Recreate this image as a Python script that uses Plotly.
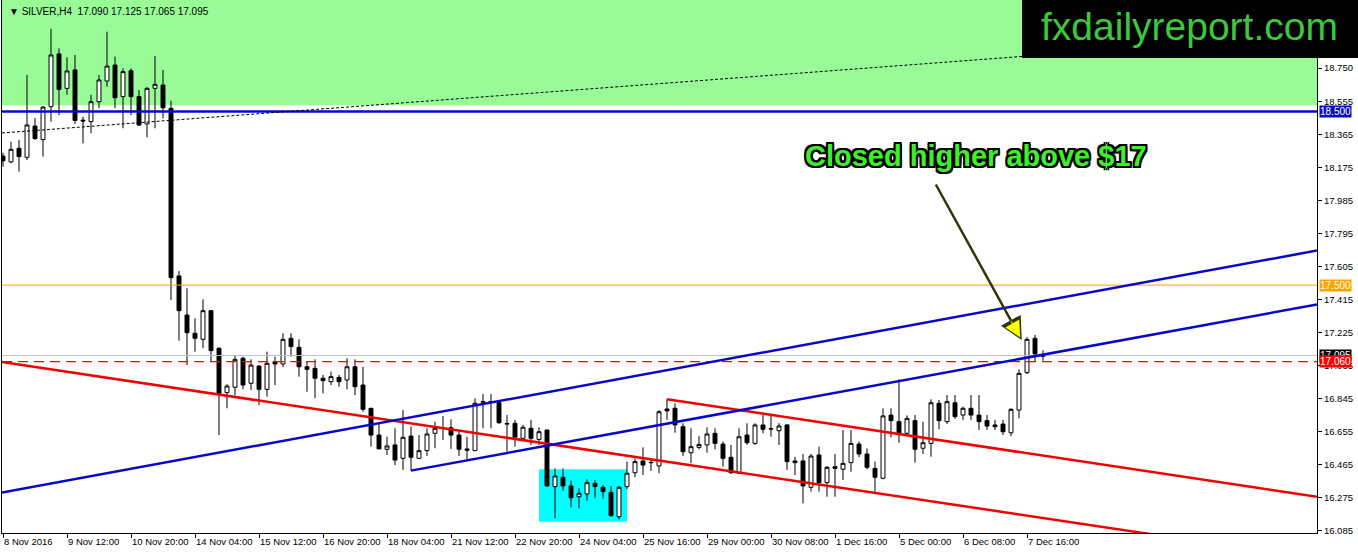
import plotly.graph_objects as go

# ---------------- data ----------------
open_ = [18.243, 18.210, 18.288, 18.236, 18.416, 18.338, 18.527, 18.831, 18.633, 18.739,
         18.450, 18.441, 18.556, 18.675, 18.767, 18.585, 18.734, 18.585, 18.428, 18.633,
         18.652, 18.518, 17.553, 17.328, 17.223, 17.188, 17.353, 17.137, 16.881, 16.912,
         17.079, 16.935, 17.034, 16.900, 17.059, 17.046, 17.194, 17.142, 17.030, 17.021,
         16.964, 16.944, 16.969, 16.954, 17.030, 16.925, 16.791, 16.637, 16.555, 16.580,
         16.503, 16.631, 16.503, 16.547, 16.647, 16.680, 16.679, 16.637, 16.557, 16.547,
         16.826, 16.830, 16.823, 16.700, 16.705, 16.618, 16.676, 16.612, 16.666, 16.340,
         16.394, 16.344, 16.282, 16.298, 16.359, 16.336, 16.307, 16.167, 16.340, 16.420,
         16.488, 16.480, 16.459, 16.787, 16.791, 16.685, 16.535, 16.566, 16.580, 16.647,
         16.585, 16.509, 16.417, 16.637, 16.589, 16.695, 16.674, 16.662, 16.695, 16.488,
         16.488, 16.336, 16.522, 16.363, 16.455, 16.440, 16.478, 16.585, 16.528, 16.445,
         16.388, 16.752, 16.714, 16.647, 16.720, 16.561, 16.589, 16.820, 16.714, 16.823,
         16.752, 16.791, 16.752, 16.720, 16.695, 16.700, 16.650, 16.781, 16.996, 17.194,
         17.090]
high = [18.262, 18.326, 18.336, 18.710, 18.462, 18.531, 18.975, 18.863, 18.812, 18.825,
        18.470, 18.595, 18.710, 18.959, 18.815, 18.748, 18.748, 18.623, 18.640, 18.819,
        18.739, 18.562, 17.581, 17.482, 17.309, 17.418, 17.357, 17.140, 16.930, 17.092,
        17.088, 17.073, 17.040, 17.117, 17.088, 17.223, 17.223, 17.188, 17.059, 17.073,
        16.983, 17.002, 16.983, 17.079, 17.073, 17.030, 16.791, 16.705, 16.627, 16.676,
        16.781, 16.685, 16.637, 16.676, 16.714, 16.747, 16.728, 16.666, 16.627, 16.848,
        16.873, 16.873, 16.839, 16.752, 16.724, 16.695, 16.724, 16.682, 16.670, 16.445,
        16.445, 16.374, 16.330, 16.382, 16.378, 16.349, 16.344, 16.344, 16.484, 16.503,
        16.566, 16.503, 16.781, 16.843, 16.820, 16.705, 16.676, 16.631, 16.682, 16.676,
        16.600, 16.580, 16.676, 16.705, 16.705, 16.752, 16.747, 16.705, 16.700, 16.512,
        16.528, 16.528, 16.570, 16.459, 16.528, 16.666, 16.666, 16.600, 16.560, 16.484,
        16.791, 16.791, 16.958, 16.750, 16.752, 16.714, 16.843, 16.839, 16.867, 16.867,
        16.800, 16.867, 16.867, 16.752, 16.724, 16.724, 16.791, 17.015, 17.200, 17.213,
        17.125]
low = [18.182, 18.201, 18.153, 18.220, 18.336, 18.240, 18.441, 18.479, 18.595, 18.428,
       18.316, 18.374, 18.518, 18.642, 18.518, 18.403, 18.479, 18.416, 18.351, 18.403,
       18.460, 17.414, 17.180, 17.040, 17.117, 17.137, 17.059, 16.637, 16.791, 16.867,
       16.900, 16.896, 16.810, 16.858, 16.925, 17.027, 17.088, 16.973, 16.886, 16.849,
       16.877, 16.925, 16.915, 16.900, 16.867, 16.771, 16.570, 16.557, 16.522, 16.464,
       16.436, 16.432, 16.500, 16.516, 16.561, 16.609, 16.557, 16.516, 16.489, 16.545,
       16.676, 16.676, 16.701, 16.541, 16.570, 16.604, 16.580, 16.580, 16.340, 16.158,
       16.317, 16.221, 16.215, 16.259, 16.273, 16.270, 16.167, 16.152, 16.325, 16.394,
       16.407, 16.430, 16.417, 16.724, 16.650, 16.516, 16.474, 16.555, 16.535, 16.555,
       16.455, 16.413, 16.413, 16.580, 16.580, 16.647, 16.627, 16.580, 16.436, 16.407,
       16.244, 16.311, 16.311, 16.282, 16.282, 16.378, 16.426, 16.510, 16.440, 16.311,
       16.382, 16.624, 16.593, 16.640, 16.478, 16.528, 16.512, 16.670, 16.700, 16.730,
       16.724, 16.724, 16.666, 16.666, 16.666, 16.637, 16.631, 16.733, 16.988, 17.059,
       17.065]
close = [18.216, 18.282, 18.240, 18.422, 18.344, 18.525, 18.825, 18.627, 18.733, 18.448,
         18.445, 18.556, 18.681, 18.761, 18.579, 18.729, 18.585, 18.422, 18.633, 18.656,
         18.521, 17.543, 17.353, 17.226, 17.194, 17.353, 17.123, 16.877, 16.919, 17.073,
         16.925, 17.040, 16.900, 17.050, 17.046, 17.188, 17.146, 17.030, 17.015, 16.964,
         16.950, 16.973, 16.944, 17.030, 16.915, 16.785, 16.637, 16.557, 16.574, 16.493,
         16.624, 16.509, 16.547, 16.643, 16.676, 16.675, 16.637, 16.555, 16.550, 16.820,
         16.829, 16.826, 16.708, 16.703, 16.624, 16.682, 16.618, 16.656, 16.344, 16.401,
         16.344, 16.276, 16.302, 16.363, 16.340, 16.311, 16.173, 16.336, 16.417, 16.484,
         16.464, 16.478, 16.771, 16.776, 16.695, 16.541, 16.570, 16.583, 16.643, 16.589,
         16.503, 16.420, 16.627, 16.593, 16.695, 16.670, 16.672, 16.689, 16.484, 16.478,
         16.344, 16.516, 16.363, 16.451, 16.445, 16.474, 16.589, 16.528, 16.451, 16.394,
         16.747, 16.720, 16.647, 16.733, 16.555, 16.593, 16.823, 16.720, 16.829, 16.743,
         16.791, 16.752, 16.714, 16.689, 16.685, 16.656, 16.785, 16.992, 17.188, 17.104,
         17.095]
bars = list(range(len(open_)))

tick_bars = list(range(0, 129, 8))
tick_labels = ["8 Nov 2016", "9 Nov 12:00", "10 Nov 20:00", "14 Nov 04:00", "15 Nov 12:00",
               "16 Nov 20:00", "18 Nov 04:00", "21 Nov 12:00", "22 Nov 20:00", "24 Nov 04:00",
               "25 Nov 16:00", "29 Nov 00:00", "30 Nov 08:00", "1 Dec 16:00", "5 Dec 00:00",
               "6 Dec 08:00", "7 Dec 16:00"]
price_ticks = [18.750, 18.555, 18.365, 18.175, 17.985, 17.795, 17.605, 17.415, 17.225,
               17.035, 16.845, 16.655, 16.465, 16.275, 16.085]

# horizontal levels
level_resistance = 18.500
level_orange = 17.500
level_bid = 17.095
level_red = 17.060
green_zone_bottom = 18.535

# trend lines: (x0, y0, x1, y1) in bar index / price
trend_dotted = [-0.125, 18.376, 164.25, 18.944]
trend_red_long = [-0.125, 17.057, 164.25, 15.923]
trend_red_channel = [83, 16.843, 164.25, 16.282]
trend_blue_upper = [-0.125, 16.306, 164.25, 17.699]
trend_blue_lower = [51, 16.432, 164.25, 17.389]

# cyan consolidation box
box_cyan = [67, 16.138, 78, 16.440]

# annotation anchor points
text_pos = [121.6, 18.243]
arrow_tail = [116.5, 18.088]
arrow_tip = [127.34, 17.184]
arrow_head_tail = [125.9, 17.300]

X_RANGE = [-0.125, 164.25]
Y_RANGE = [16.073, 19.1415]

FONT = "Liberation Sans, Arial, sans-serif"
BLUE = "#0808CC"
RED = "#F00000"
ORANGE = "#FFA500"

fig = go.Figure()
fig.add_trace(go.Candlestick(
    x=bars, open=open_, high=high, low=low, close=close,
    increasing=dict(fillcolor="white", line=dict(color="black", width=1)),
    decreasing=dict(fillcolor="black", line=dict(color="black", width=1)),
    whiskerwidth=0, hoverinfo="skip", showlegend=False,
))

shapes = []
# green zone
shapes.append(dict(type="rect", xref="x", yref="y", x0=X_RANGE[0], x1=X_RANGE[1],
                   y0=green_zone_bottom, y1=Y_RANGE[1], fillcolor="#98FB98",
                   line=dict(width=0), layer="below"))
# cyan box
shapes.append(dict(type="rect", xref="x", yref="y", x0=box_cyan[0], x1=box_cyan[2],
                   y0=box_cyan[1], y1=box_cyan[3], fillcolor="#00FFFF",
                   line=dict(width=0), layer="below"))
# horizontal lines
shapes.append(dict(type="line", xref="x", yref="y", x0=X_RANGE[0], x1=X_RANGE[1],
                   y0=level_orange, y1=level_orange, line=dict(color=ORANGE, width=1), layer="above"))
shapes.append(dict(type="line", xref="x", yref="y", x0=X_RANGE[0], x1=X_RANGE[1],
                   y0=level_bid, y1=level_bid, line=dict(color="#C0C0C0", width=1), layer="above"))
shapes.append(dict(type="line", xref="x", yref="y", x0=X_RANGE[0], x1=X_RANGE[1],
                   y0=level_red, y1=level_red, line=dict(color="#FF0000", width=1.3, dash="10px,6px"),
                   layer="above"))
shapes.append(dict(type="line", xref="x", yref="y", x0=X_RANGE[0], x1=X_RANGE[1],
                   y0=level_resistance, y1=level_resistance, line=dict(color=BLUE, width=2.5), layer="above"))
# trend lines
def tl(p, color, width, dash="solid"):
    return dict(type="line", xref="x", yref="y", x0=p[0], y0=p[1], x1=p[2], y1=p[3],
                line=dict(color=color, width=width, dash=dash), layer="above")
shapes.append(tl(trend_dotted, "black", 1, "3px,2px"))
shapes.append(tl(trend_red_long, RED, 2.5))
shapes.append(tl(trend_red_channel, RED, 2.5))
shapes.append(tl(trend_blue_upper, BLUE, 2.5))
shapes.append(tl(trend_blue_lower, BLUE, 2.5))
# logo box (top right)
shapes.append(dict(type="rect", xref="paper", yref="paper", x0=0.7757, x1=1.04,
                   y0=0.8912, y1=1.0, fillcolor="black", line=dict(width=0), layer="above"))

annotations = []
outline = ("2px 0 0 #000, -2px 0 0 #000, 0 2px 0 #000, 0 -2px 0 #000, "
           "2px 2px 0 #000, -2px -2px 0 #000, 2px -2px 0 #000, -2px 2px 0 #000")
annotations.append(dict(x=text_pos[0], y=text_pos[1], xref="x", yref="y",
                        text="Closed higher above $17", showarrow=False,
                        font=dict(family=FONT, size=29, color="#3CF02A", weight="bold",
                                  shadow=outline),
                        xanchor="center", yanchor="middle"))
# arrow
annotations.append(dict(x=arrow_tip[0], y=arrow_tip[1], xref="x", yref="y",
                        ax=arrow_tail[0], ay=arrow_tail[1], axref="x", ayref="y",
                        text="", showarrow=True, arrowhead=2, arrowsize=1.8,
                        arrowwidth=2.5, arrowcolor="#34340C"))
annotations.append(dict(x=arrow_tip[0], y=arrow_tip[1], xref="x", yref="y",
                        ax=arrow_head_tail[0], ay=arrow_head_tail[1], axref="x", ayref="y",
                        text="", showarrow=True, arrowhead=2, arrowsize=3.2,
                        arrowwidth=1, arrowcolor="#FFFF00", standoff=3))
# header
annotations.append(dict(x=0, y=1, xref="paper", yref="paper", xanchor="left", yanchor="top",
                        xshift=5, yshift=-4, showarrow=False,
                        text="▼ SILVER,H4  17.090 17.125 17.065 17.095",
                        font=dict(family=FONT, size=10, color="black")))
# logo text
annotations.append(dict(x=0.9027, y=0.951, xref="paper", yref="paper", xanchor="center",
                        yanchor="middle", showarrow=False, text="fxdailyreport.com",
                        font=dict(family=FONT, size=39, color="#3CC83C")))
# price boxes on the axis
for val, bg in [(level_resistance, BLUE), (level_orange, ORANGE), (level_bid, "black"), (level_red, "#FF0000")]:
    annotations.append(dict(x=1, y=val, xref="paper", yref="y", xanchor="left", yanchor="middle",
                            xshift=2, showarrow=False, text="%.3f" % val, bgcolor=bg,
                            borderpad=0, font=dict(family=FONT, size=10, color="white")))

fig.update_layout(
    width=1358, height=554,
    margin=dict(l=2, r=41, t=0, b=21, autoexpand=False),
    paper_bgcolor="white", plot_bgcolor="white",
    showlegend=False, hovermode=False,
    shapes=shapes, annotations=annotations,
    xaxis=dict(range=X_RANGE, tickvals=tick_bars, ticktext=tick_labels,
               ticks="outside", ticklen=4, tickcolor="black", tickangle=0,
               ticklabelposition="outside right", automargin=False,
               showline=True, linecolor="black", linewidth=1, mirror=False,
               showgrid=False, zeroline=False, rangeslider=dict(visible=False),
               tickfont=dict(family=FONT, size=9.5, color="black")),
    yaxis=dict(range=Y_RANGE, side="right", tickvals=price_ticks,
               ticktext=["%.3f" % v for v in price_ticks], automargin=False,
               ticks="outside", ticklen=4, tickcolor="black",
               showline=True, linecolor="black", linewidth=1, mirror=True,
               showgrid=False, zeroline=False,
               tickfont=dict(family=FONT, size=9.5, color="black")),
)

fig.write_html("out.html", config={"displayModeBar": False},
               post_script="document.body.style.margin='0';document.body.style.overflow='hidden';")
